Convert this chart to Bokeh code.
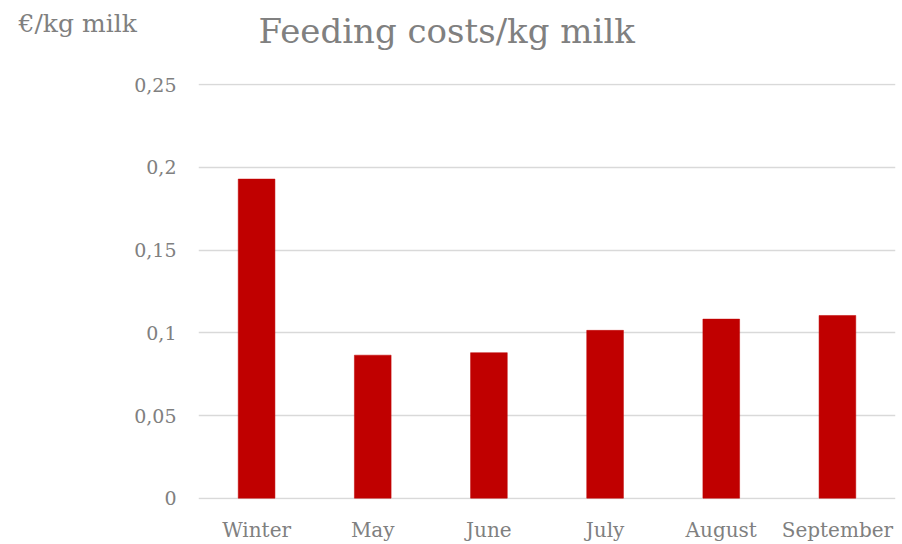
from bokeh.plotting import figure
from bokeh.models import FactorRange, Range1d, FixedTicker, Title, ColumnDataSource
from bokeh.embed import file_html
from bokeh.resources import INLINE

categories = ["Winter", "May", "June", "July", "August", "September"]
costs = [0.193, 0.0865, 0.088, 0.1015, 0.1083, 0.1105]
tick_values = [0, 0.05, 0.1, 0.15, 0.2, 0.25]
tick_labels = ["0", "0,05", "0,1", "0,15", "0,2", "0,25"]
title_text = "Feeding costs/kg milk"
unit_text = "€/kg milk"

FONT = "DejaVu Serif"
GRAY = "#808080"

src = ColumnDataSource(dict(cat=categories, val=costs))

p = figure(width=902, height=544, output_backend="svg", toolbar_location=None,
           x_range=FactorRange(*categories, range_padding=0),
           y_range=Range1d(-0.0008, 0.2508),
           min_border_left=198, min_border_right=7, min_border_top=0, min_border_bottom=45)
p.outline_line_color = None
p.background_fill_color = "white"
p.border_fill_color = "white"

p.title.text = title_text
p.title.align = "left"
p.title.offset = 60
p.title.standoff = 16
p.title.text_font = FONT
p.title.text_font_size = "34px"
p.title.text_font_style = "normal"
p.title.text_color = GRAY

# spacer (closest to the frame) then the unit label
p.add_layout(Title(text=" ", align="left", standoff=11.5, text_font=FONT,
                   text_font_size="10px", text_color="white"), "above")
p.add_layout(Title(text=unit_text, align="left", offset=-180, standoff=-100,
                   vertical_align="top",
                   text_font=FONT, text_font_size="25px", text_font_style="normal",
                   text_color=GRAY), "above")

p.vbar(x="cat", top="val", width=0.316, source=src, fill_color="#c00000", line_color="#c00000", line_width=0.5)

p.xgrid.grid_line_color = None
p.ygrid.grid_line_color = "#d9d9d9"
p.ygrid.grid_line_width = 1.5

p.yaxis.ticker = FixedTicker(ticks=tick_values)
p.yaxis.major_label_overrides = {v: l for v, l in zip(tick_values, tick_labels)}
for ax in (p.xaxis, p.yaxis):
    ax.axis_line_color = None
    ax.major_tick_line_color = None
    ax.minor_tick_line_color = None
    ax.major_label_text_font = FONT
    ax.major_label_text_color = GRAY
p.yaxis.major_label_text_font_size = "19px"
p.yaxis.major_label_standoff = 16
p.xaxis.major_label_text_font_size = "20px"
p.xaxis.major_label_standoff = 12

open("out.html", "w").write(file_html(p, INLINE))
